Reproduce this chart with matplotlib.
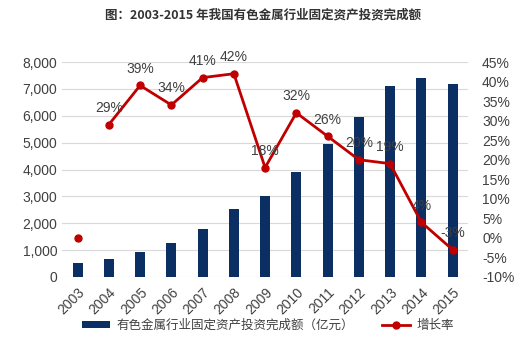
import matplotlib
matplotlib.use("Agg")
import matplotlib.pyplot as plt
from matplotlib.ticker import FuncFormatter, MultipleLocator

plt.rcParams['font.family'] = ['Liberation Sans', 'Noto Sans CJK SC', 'DejaVu Sans']

years = ['2003', '2004', '2005', '2006', '2007', '2008', '2009', '2010',
         '2011', '2012', '2013', '2014', '2015']
investment = [520, 670, 930, 1260, 1780, 2530, 3000, 3900, 4950, 5950, 7100, 7400, 7170]
growth = [0, 29, 39, 34, 41, 42, 18, 32, 26, 20, 19, 4, -3]
growth_labels = ['', '29%', '39%', '34%', '41%', '42%', '18%', '32%', '26%', '20%', '19%', '4%', '-3%']

bar_name = '有色金属行业固定资产投资完成额（亿元）'
line_name = '增长率'
title = '图：2003-2015 年我国有色金属行业固定资产投资完成额'

bar_color = '#0B2F63'
line_color = '#C00000'

fig = plt.figure(figsize=(5.2, 3.41), dpi=100)
ax = fig.add_axes([62/520, 1 - 277/341, (468.6 - 62.4)/520, (277 - 62)/341])
ax2 = ax.twinx()

x = list(range(len(years)))
bars = ax.bar(x, investment, width=0.32, color=bar_color, zorder=2, label=bar_name)
ax.set_ylim(0, 8000)
ax.set_xlim(-0.5, len(years) - 0.5)
ax.yaxis.set_major_locator(MultipleLocator(1000))
ax.yaxis.set_major_formatter(FuncFormatter(lambda v, p: f'{int(v):,}'))
ax.grid(axis='y', color='#D9D9D9', linewidth=0.8, zorder=0)
ax.set_axisbelow(True)
ax.set_xticks(x)
ax.set_xticklabels(years, rotation=45, ha='right', rotation_mode='anchor', fontsize=10, color='#404040')
for sp in ax.spines.values():
    sp.set_visible(False)
for sp in ax2.spines.values():
    sp.set_visible(False)
ax.tick_params(axis='both', length=0, labelsize=10, colors='#404040')
ax.tick_params(axis='x', pad=6)

# 2003 point stands alone (no connecting segment), line starts at 2004
ax2.plot(x[:1], growth[:1], linestyle='none', marker='o', markersize=5, color=line_color, zorder=3)
line, = ax2.plot(x[1:], growth[1:], color=line_color, linewidth=2, marker='o', markersize=5,
                 zorder=3, label=line_name)
ax2.set_ylim(-10, 45)
ax2.yaxis.set_major_locator(MultipleLocator(5))
ax2.yaxis.set_major_formatter(FuncFormatter(lambda v, p: f'{int(round(v))}%'))
ax2.tick_params(axis='y', length=0, labelsize=10, colors='#404040', pad=10)

for xi, g, lab in zip(x, growth, growth_labels):
    if lab:
        ax2.annotate(lab, (xi, g), xytext=(0, 7), textcoords='offset points',
                     ha='center', va='bottom', fontsize=10, color='#404040')

fig.text(0.505, 0.955, title, ha='center', va='center', fontsize=9, fontweight='bold',
         family=['Noto Sans CJK SC'], color='#333333')

fig.legend([bars, line], [bar_name, line_name], loc='center', bbox_to_anchor=(0.515, 1 - 325/341),
           ncol=2, frameon=False, handlelength=2.3, handleheight=0.5, columnspacing=2.2,
           handletextpad=0.5, labelcolor='#404040', prop={'family': ['Noto Sans CJK SC'], 'size': 9})

fig.savefig('out.png', dpi=100)
